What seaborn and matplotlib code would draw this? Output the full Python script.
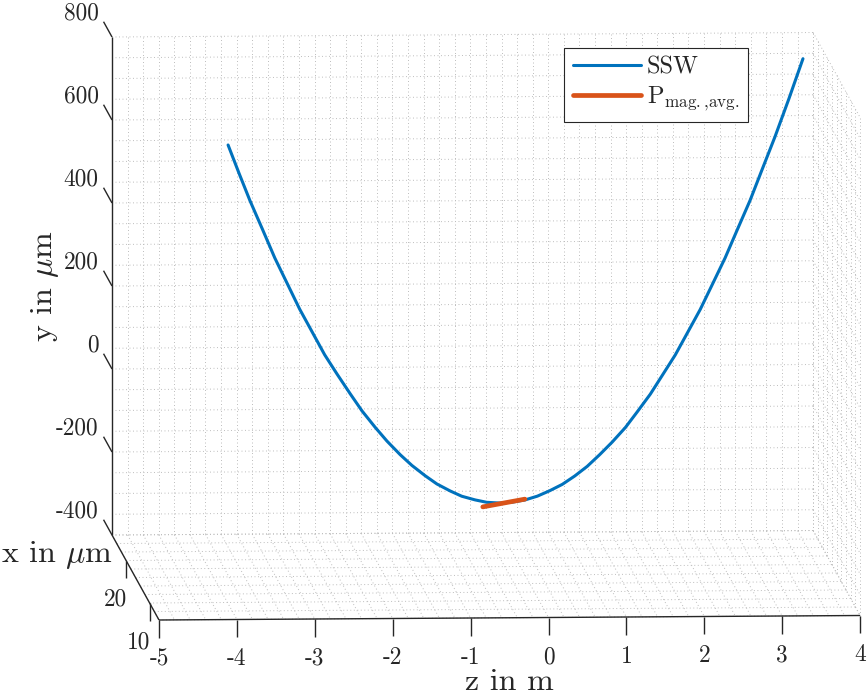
import numpy as np
import matplotlib
matplotlib.use("Agg")
import matplotlib.pyplot as plt
import seaborn as sns

# SSW trajectory: z in m, y in µm, lying in the rear plane of the box
z_ssw = [-3.51, -3.37, -3.23, -3.07, -2.91, -2.75, -2.59, -2.43, -2.27, -2.11,
         -1.94, -1.79, -1.62, -1.47, -1.30, -1.15, -0.98, -0.83, -0.66, -0.51,
         -0.34, -0.19, -0.02, 0.14, 0.30, 0.46, 0.62, 0.78, 0.94, 1.10,
         1.26, 1.42, 1.59, 1.74, 1.91, 2.06, 2.23, 2.38, 2.55, 2.70,
         2.87, 3.02, 3.19, 3.34, 3.51, 3.69, 3.87]
y_ssw = [538, 470, 404, 335, 265, 203, 141, 86, 31, -16,
         -64, -105, -145, -178, -211, -237, -262, -282, -299, -312,
         -321, -327, -329, -327, -322, -313, -300, -285, -265, -242,
         -214, -184, -149, -112, -69, -25, 25, 76, 134, 192,
         258, 323, 396, 468, 549, 641, 737]
x_ssw = 26.0

# averaged magnetic position
z_pmag = [-0.24, 0.30]
y_pmag = [-338, -320]
x_pmag = 26.0

z_lim = (-5, 4)
x_lim = (6, 26)
y_lim = (-400, 800)
z_ticks = [-5, -4, -3, -2, -1, 0, 1, 2, 3, 4]
x_ticks = [10, 20]
y_ticks = [-400, -200, 0, 200, 400, 600, 800]
z_step, x_step, y_step = 0.2, 2, 50

BLUE = "#0072BD"
ORANGE = "#D95319"
AXC = "#262626"
GRIDC = "#bdbdbd"

# oblique view of the 3-D box (page units: z along the page, y upwards)
PX_Z = 77.9          # pixels per m along z
PX_Y = 0.415         # pixels per µm along y
DU = 2.35 / PX_Z     # sideways shift per µm of x towards the viewer
DV = 4.25 / PX_Y     # downward shift per µm of x towards the viewer
TILT = 0.5 / PX_Y    # slight rise along z


def proj(z, x, y):
    z = np.asarray(z, float)
    x = np.asarray(x, float)
    y = np.asarray(y, float)
    d = x_lim[1] - x
    return z + d * DU, y - d * DV + (z - z_lim[0]) * TILT


sns.set_style("white")
plt.rcParams["mathtext.fontset"] = "cm"
plt.rcParams["font.family"] = ["cmr10", "DejaVu Serif"]
plt.rcParams["axes.unicode_minus"] = False

fig = plt.figure(figsize=(8.67, 6.97), dpi=100)
ax = fig.add_axes([0, 0, 1, 1])
ax.set_xlim(z_lim[0] - 112 / PX_Z, z_lim[0] + (867 - 112) / PX_Z)
ax.set_ylim(y_lim[0] - (697 - 535) / PX_Y, y_lim[0] + 535 / PX_Y)
ax.axis("off")


def seg(p0, p1, **kw):
    u, v = proj([p0[0], p1[0]], [p0[1], p1[1]], [p0[2], p1[2]])
    ax.plot(u, v, **kw)


grid_kw = dict(color=GRIDC, lw=0.7, ls=(0, (1, 2.6)), zorder=1)
z_minor = np.arange(z_lim[0], z_lim[1] + 1e-9, z_step)
x_minor = np.arange(x_lim[0], x_lim[1] + 1e-9, x_step)
y_minor = np.arange(y_lim[0], y_lim[1] + 1e-9, y_step)
zb, zf = z_lim
xf, xb = x_lim
yb, yt = y_lim

# rear wall
for z in z_minor:
    seg((z, xb, yb), (z, xb, yt), **grid_kw)
for y in y_minor:
    seg((zb, xb, y), (zf, xb, y), **grid_kw)
# floor
for z in z_minor:
    seg((z, xb, yb), (z, xf, yb), **grid_kw)
for x in x_minor:
    seg((zb, x, yb), (zf, x, yb), **grid_kw)
# right wall
for y in y_minor:
    seg((zf, xb, y), (zf, xf, y), **grid_kw)
for x in x_minor:
    seg((zf, x, yb), (zf, x, yt), **grid_kw)

# axis lines and ticks
ax_kw = dict(color=AXC, lw=1.0, zorder=3, solid_capstyle="butt")
seg((zb, xb, yb), (zb, xb, yt), **ax_kw)
seg((zb, xb, yb), (zb, xf, yb), **ax_kw)
seg((zb, xf, yb), (zf, xf, yb), **ax_kw)

tick_font = dict(family=["cmr10", "DejaVu Serif"], size=16.8, color=AXC)
for y in y_ticks:
    seg((zb, xb, y), (zb, xb + 3.6, y), **ax_kw)
    ax.annotate(f"{y}", xy=proj(zb, xb + 3.6, y), xytext=(-3.6, 5.8),
                textcoords="offset points", ha="right", va="center", **tick_font)
for x in x_ticks:
    seg((zb, x, yb), (zb, x, yb - 43), **ax_kw)
    ax.annotate(f"{x}", xy=proj(zb, x, yb - 43), xytext=(-7.9, -15.5),
                textcoords="offset points", ha="center", va="center", **tick_font)
for z in z_ticks:
    seg((z, xf, yb), (z, xf, yb - 43), **ax_kw)
    ax.annotate(f"{z}", xy=proj(z, xf, yb - 43), xytext=(0, -15.8),
                textcoords="offset points", ha="center", va="center", **tick_font)

label_font = dict(family=["cmr10", "DejaVu Serif"], size=23, color=AXC)
ax.annotate("z in m", xy=proj((zb + zf) / 2, xf, yb), xytext=(0, -46.8),
            textcoords="offset points", ha="center", va="center", **label_font)
ax.annotate(r"x in $\mu$m", xy=proj(zb, (xb + xf) / 2, yb), xytext=(-56.5, 16.2),
            textcoords="offset points", ha="center", va="center", **label_font)
ax.annotate(r"y in $\mu$m", xy=proj(zb, xb, (yb + yt) / 2), xytext=(-48, 0),
            textcoords="offset points", ha="center", va="center", rotation=90,
            **label_font)

# data
u, v = proj(z_ssw, x_ssw, y_ssw)
sns.lineplot(x=u, y=v, ax=ax, color=BLUE, lw=2.2, sort=False, estimator=None,
             label="SSW", zorder=4, solid_joinstyle="round")
u, v = proj(z_pmag, x_pmag, y_pmag)
sns.lineplot(x=u, y=v, ax=ax, color=ORANGE, lw=3.4, sort=False, estimator=None,
             label=r"$\mathrm{P}_{\mathrm{mag.{,}avg.}}$", zorder=5)

leg = ax.legend(loc="upper left", bbox_to_anchor=(564 / 867, 1 - 48 / 697),
                borderaxespad=0, frameon=True, fancybox=False, framealpha=1,
                edgecolor=AXC, prop=dict(family=["cmr10", "DejaVu Serif"], size=17.5),
                handlelength=2.8, handletextpad=0.25, borderpad=0.35,
                labelspacing=0.25)
leg.get_frame().set_linewidth(0.8)
for t in leg.get_texts():
    t.set_color(AXC)

fig.savefig("out.png", dpi=100, facecolor="white")
